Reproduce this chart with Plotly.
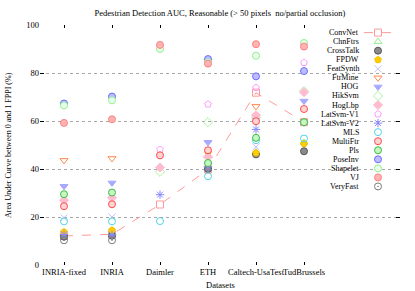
import plotly.graph_objects as go

datasets = ["INRIA-fixed", "INRIA", "Daimler", "ETH", "Caltech-UsaTest", "TudBrussels"]
x_pos = [1, 2, 3, 4, 5, 6]
y_ticks = [0, 20, 40, 60, 80, 100]

names = ["ConvNet", "ChnFtrs", "CrossTalk", "FPDW", "FeatSynth", "FtrMine", "HOG", "HikSvm",
         "HogLbp", "LatSvm-V1", "LatSvm-V2", "MLS", "MultiFtr", "Pls", "PoseInv", "Shapelet",
         "VJ", "VeryFast"]

ConvNet = [12.1, 12.8, 25.2, 39.8, 71.8, 59.5]
ChnFtrs = [13.0, 13.5, None, 45.5, 47.0, 51.0]
CrossTalk = [11.8, 12.2, None, 40.0, 46.1, 47.4]
FPDW = [13.8, 14.5, None, 47.0, 46.7, 50.6]
FeatSynth = [19.7, 20.0, None, None, 49.2, None]
FtrMine = [43.6, 44.4, None, None, 66.1, None]
HOG = [32.8, 34.2, None, 51.1, 60.5, 68.3]
HikSvm = [None, None, 38.8, 59.5, 61.5, 72.5]
HogLbp = [27.0, 28.0, 40.6, 45.0, 62.4, 72.0]
LatSvmV1 = [None, None, 48.1, 67.0, 73.9, 84.3]
LatSvmV2 = [12.7, 12.5, 29.3, 41.0, 56.5, 59.5]
MLS = [18.2, 18.2, 18.3, 37.0, 52.0, 52.7]
MultiFtr = [24.5, 25.3, 45.7, 47.8, 59.9, 65.0]
Pls = [29.5, 30.2, None, 42.5, 53.0, 59.5]
PoseInv = [67.3, 70.2, None, 85.8, 78.6, 80.8]
Shapelet = [66.5, 68.6, 90.0, 84.5, 87.2, 92.5]
VJ = [59.2, 60.7, 91.7, 83.9, 92.0, 91.0]
VeryFast = [10.3, 10.3, None, None, None, None]

series = [ConvNet, ChnFtrs, CrossTalk, FPDW, FeatSynth, FtrMine, HOG, HikSvm, HogLbp,
          LatSvmV1, LatSvmV2, MLS, MultiFtr, Pls, PoseInv, Shapelet, VJ, VeryFast]

# styles: (symbol, fill color, line color)
styles = [
    ("square-open", "#ff9a9a", "#ff9a9a"),
    ("triangle-up-open", "#8cf08c", "#8cf08c"),
    ("circle", "#8a8a8a", "#555555"),
    ("pentagon", "#ffcc00", "#f5c000"),
    ("x-thin-open", "#c0c0ff", "#c0c0ff"),
    ("triangle-down-open", "#ff8a50", "#ff8a50"),
    ("triangle-down", "#a8a8ff", "#a8a8ff"),
    ("diamond-open", "#a8f4a8", "#a8f4a8"),
    ("diamond", "#ffbcd0", "#ffbcd0"),
    ("pentagon-open", "#ff9cff", "#ff9cff"),
    ("asterisk-open", "#8888ff", "#8888ff"),
    ("circle-open", "#50d4e4", "#50d4e4"),
    ("circle", "#ffd4d4", "#ff4a4a"),
    ("circle", "#c8f4c8", "#38c038"),
    ("circle", "#bcbcff", "#6c6cff"),
    ("circle", "#ecffec", "#90f090"),
    ("circle", "#ffb4b4", "#ff8080"),
    ("circle-open-dot", "#7a7a7a", "#7a7a7a"),
]

FONT = "Liberation Serif"
MSIZE = 7
fig = go.Figure()

for name, vals, (sym, fc, lc) in zip(names, series, styles):
    is_line = name == "ConvNet"
    fig.add_trace(go.Scatter(
        x=x_pos, y=vals, name=name,
        mode="lines+markers" if is_line else "markers",
        line=dict(color=lc, width=1, dash="dash"),
        marker=dict(symbol=sym, size=MSIZE, color=fc, line=dict(color=lc, width=1)),
        showlegend=False, connectgaps=True, cliponaxis=False,
    ))

# custom legend (text right-aligned, sample on the right), in a pixel-like overlay axis
LEG_TEXT_X = 360
LEG_SYM_X = 378
LEG_Y0 = 32.3
LEG_DY = 9.05
for i, (name, (sym, fc, lc)) in enumerate(zip(names, styles)):
    yy = LEG_Y0 + LEG_DY * i
    if name == "ConvNet":
        fig.add_trace(go.Scatter(x=[364, 394], y=[yy, yy], mode="lines", xaxis="x2", yaxis="y2",
                                 line=dict(color=lc, width=1, dash="dash"), showlegend=False,
                                 hoverinfo="skip"))
    fig.add_trace(go.Scatter(x=[LEG_SYM_X], y=[yy], mode="markers", xaxis="x2", yaxis="y2",
                             marker=dict(symbol=sym, size=MSIZE, color=fc, line=dict(color=lc, width=1)),
                             showlegend=False, hoverinfo="skip"))
    fig.add_annotation(x=LEG_TEXT_X, y=yy, xref="x2", yref="y2", text=name, showarrow=False,
                       xanchor="right", yanchor="middle", borderpad=0,
                       font=dict(family=FONT, size=8, color="#000"))

fig.update_layout(
    width=415, height=291,
    margin=dict(l=40, r=15, t=25, b=26, autoexpand=False),
    paper_bgcolor="white", plot_bgcolor="white",
    font=dict(family=FONT, size=9, color="#000"),
    title=dict(text="Pedestrian Detection AUC, Reasonable (&gt; 50 pixels&nbsp; no/partial occlusion)",
               x=0.53, xanchor="center", y=1 - 13 / 291, yanchor="middle", yref="container",
               automargin=False, font=dict(family=FONT, size=8.5, color="#000")),
    xaxis=dict(range=[0.5, 8.0], tickvals=x_pos, ticktext=datasets, ticks="inside", ticklen=3,
               tickangle=0, tickcolor="#000", mirror="ticks", showgrid=False, showline=False,
               zeroline=False, automargin=False, tickfont=dict(family=FONT, size=8.5)),
    yaxis=dict(range=[0, 100], tickvals=y_ticks, ticks="inside", ticklen=4, tickcolor="#000",
               mirror="ticks", showgrid=True, gridcolor="#a8a8a8", griddash="dot", gridwidth=1,
               showline=False, zeroline=False, automargin=False, tickfont=dict(family=FONT, size=8.5)),
    xaxis2=dict(range=[40, 400], overlaying="x", visible=False, fixedrange=True, automargin=False),
    yaxis2=dict(range=[264.7, 24.7], overlaying="y", visible=False, fixedrange=True, automargin=False),
    showlegend=False,
)

fig.add_annotation(x=0.5, y=-20 / 240, xref="paper", yref="paper", text="Datasets", showarrow=False,
                   xanchor="center", yanchor="middle", borderpad=0, font=dict(family=FONT, size=8.5))
fig.add_annotation(x=-32 / 360, y=0.5, xref="paper", yref="paper",
                   text="Area Under Curve between 0 and 1 FPPI (%)", textangle=-90, showarrow=False,
                   xanchor="center", yanchor="middle", font=dict(family=FONT, size=8))

fig.write_html("out.html", post_script="document.body.style.margin='0px';",
               config={"displayModeBar": False})
